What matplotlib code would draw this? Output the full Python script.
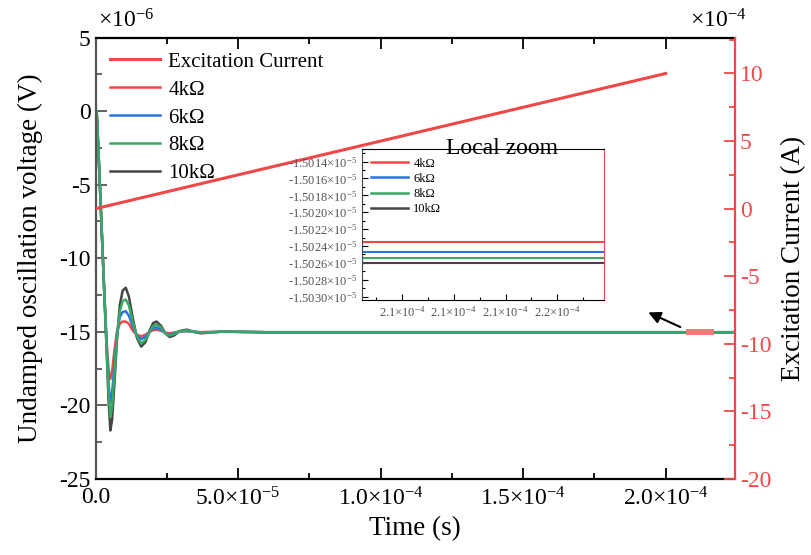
import matplotlib
matplotlib.use('Agg')
import matplotlib.pyplot as plt
from matplotlib.ticker import MultipleLocator, FuncFormatter, FixedLocator
from matplotlib.patches import Rectangle
import numpy as np

plt.rcParams['font.family'] = 'Liberation Serif'
plt.rcParams['mathtext.fontset'] = 'custom'
plt.rcParams['mathtext.rm'] = 'Liberation Serif'
plt.rcParams['mathtext.it'] = 'Liberation Serif:italic'
plt.rcParams['axes.unicode_minus'] = False

# time in units of 1e-5 s, voltage in units of 1e-6 V
T = [0, 0.04, 0.1, 0.2, 0.3, 0.4, 0.46, 0.52, 0.58, 0.66, 0.75, 0.85, 0.95, 1.06,
     1.17, 1.3, 1.45, 1.6, 1.75, 1.9, 2.02, 2.14, 2.3, 2.45, 2.6, 2.75, 2.95, 3.2,
     3.45, 3.7, 4.0, 4.5, 5.0, 6.0, 22.43]
V_4K = [0, 0, -2.6, -7.3, -12.0, -16.0, -17.6, -18.2, -17.7, -16.3, -15.0, -14.45,
        -14.3, -14.3, -14.45, -14.9, -15.2, -15.3, -15.2, -15.0, -14.88, -14.85,
        -14.92, -15.05, -15.1, -15.05, -14.98, -14.96, -15.0, -15.02, -15.01,
        -14.995, -15.0, -15.0235, -15.0235]
V_6K = [0, 0, -2.6, -7.3, -12.0, -16.4, -18.6, -19.8, -19.2, -17.3, -15.2, -14.0,
        -13.65, -13.6, -13.9, -14.6, -15.25, -15.5, -15.35, -15.0, -14.75, -14.7,
        -14.85, -15.1, -15.2, -15.1, -14.97, -14.93, -15.0, -15.03, -15.02, -14.99,
        -15.0, -15.0247, -15.0247]
V_8K = [0, 0, -2.6, -7.3, -12.0, -16.6, -19.2, -20.8, -20.1, -18.0, -15.4, -13.6,
        -12.9, -12.8, -13.2, -14.3, -15.3, -15.8, -15.55, -15.0, -14.6, -14.5,
        -14.7, -15.1, -15.25, -15.15, -14.95, -14.9, -15.0, -15.05, -15.03, -14.98,
        -15.0, -15.0254, -15.0254]
V_10K = [0, 0, -2.6, -7.3, -12.0, -16.8, -19.8, -21.7, -21.0, -18.6, -15.6, -13.2,
         -12.2, -12.0, -12.6, -14.0, -15.4, -16.0, -15.7, -14.9, -14.4, -14.3,
         -14.6, -15.1, -15.35, -15.25, -14.95, -14.85, -15.0, -15.1, -15.05, -14.97,
         -15.0, -15.026, -15.026]

# excitation current, time in 1e-5 s, current in 1e-4 A
T_EXC = [0, 20.0]
I_EXC = [0, 10]

LABELS = ['4k\u03a9', '6k\u03a9', '8k\u03a9', '10k\u03a9']
COLORS = ['#f04848', '#2a72dc', '#3aa865', '#454545']
RED = '#f04848'

ZOOM_T = (20.7, 21.7)      # highlighted region, 1e-5 s
ARROW_HEAD = (19.3, -13.6)
ARROW_TAIL = (20.6, -14.75)


def xfmt(v, pos):
    if abs(v) < 1e-12:
        return '0.0'
    e = int(np.floor(np.log10(abs(v)) + 1e-9))
    return '%.1f\u00d710$^{%d}$' % (v / 10.0**e, e)


fig = plt.figure(figsize=(8.11, 5.55), dpi=100)
ax = fig.add_axes([0.1178, 0.1369, 0.7885, 0.7955])

t = np.array(T) * 1e-5
series = [V_4K, V_6K, V_8K, V_10K]
handles = [None] * 4
for i in [3, 0, 1, 2]:
    handles[i], = ax.plot(t, series[i], color=COLORS[i], lw=1.8, label=LABELS[i])

ax.add_patch(Rectangle((ZOOM_T[0] * 1e-5, -15.18), (ZOOM_T[1] - ZOOM_T[0]) * 1e-5, 0.36,
                       facecolor='#f07878', edgecolor='none', zorder=5))
ax.annotate('', xy=(ARROW_HEAD[0] * 1e-5, ARROW_HEAD[1]),
            xytext=(ARROW_TAIL[0] * 1e-5, ARROW_TAIL[1]),
            arrowprops=dict(arrowstyle='-|>', color='black', lw=1.5, mutation_scale=18))

ax.set_xlim(0, 2.243e-4)
ax.set_ylim(-25, 5)
ax.xaxis.set_major_locator(MultipleLocator(5e-5))
ax.xaxis.set_minor_locator(MultipleLocator(2.5e-5))
ax.xaxis.set_major_formatter(FuncFormatter(xfmt))
ax.yaxis.set_major_locator(MultipleLocator(5))
ax.yaxis.set_minor_locator(MultipleLocator(2.5))
ax.tick_params(which='both', direction='in', top=True, labelsize=17, width=1.3)
ax.tick_params(which='major', length=8)
ax.tick_params(which='minor', length=4)
ax.tick_params(axis='y', which='both', color='#555555')
ax.tick_params(axis='x', pad=6)
for s in ['top', 'bottom']:
    ax.spines[s].set_linewidth(1.6)
ax.spines['left'].set_color('#555555')
ax.spines['left'].set_linewidth(1.6)
ax.spines['right'].set_visible(False)
ax.set_xlabel('Time (s)', fontsize=19.5, labelpad=4)
ax.set_ylabel('Undamped oscillation voltage (V)', fontsize=19.5, labelpad=12)

ax2 = ax.twinx()
h_exc, = ax2.plot(np.array(T_EXC) * 1e-5, I_EXC, color=RED, lw=2.2, label='Excitation Current')
ax2.set_ylim(-20, 12.66)
ax2.yaxis.set_major_locator(MultipleLocator(5))
ax2.yaxis.set_minor_locator(MultipleLocator(2.5))
ax2.tick_params(which='both', direction='in', color=RED, labelcolor=RED, labelsize=17, width=1.3)
ax2.tick_params(which='major', length=8)
ax2.tick_params(which='minor', length=4)
for s in ['top', 'bottom', 'left']:
    ax2.spines[s].set_visible(False)
ax2.spines['right'].set_color(RED)
ax2.spines['right'].set_linewidth(1.6)
ax2.set_ylabel('Excitation Current (A)', fontsize=19.5, labelpad=7)

ax2.legend([h_exc] + handles, ['Excitation Current'] + LABELS, loc='upper left',
           frameon=False, fontsize=15, handlelength=2.4, labelspacing=0.4,
           borderaxespad=0.3, handletextpad=0.4)

fig.text(98 / 811, 1 - 28 / 555, '\u00d710$^{-6}$', fontsize=17)
fig.text(690 / 811, 1 - 28 / 555, '\u00d710$^{-4}$', fontsize=17)

# inset: local zoom
axin = fig.add_axes([0.4464, 0.4595, 0.2984, 0.2721])
for i in [3, 0, 1, 2]:
    axin.plot(np.array(T) * 0.1, np.array(series[i]) * 0.1, color=COLORS[i], lw=1.5)
axin.set_xlim(2.0846, 2.178)
axin.set_ylim(-1.50304, -1.50125)
axin.xaxis.set_major_locator(FixedLocator([2.10, 2.12, 2.14, 2.16]))
axin.xaxis.set_minor_locator(FixedLocator([2.09, 2.11, 2.13, 2.15, 2.17]))
axin.yaxis.set_major_locator(FixedLocator(np.arange(-1.5030, -1.50135, 0.0002)))
axin.yaxis.set_minor_locator(MultipleLocator(0.0001))
axin.xaxis.set_major_formatter(FuncFormatter(lambda v, p: '%.1f\u00d710$^{-4}$' % v))
axin.yaxis.set_major_formatter(FuncFormatter(lambda v, p: '%.4f\u00d710$^{-5}$' % v))
axin.tick_params(which='both', direction='in', labelsize=9, labelcolor='#555555', width=0.8)
axin.tick_params(which='major', length=4)
axin.tick_params(which='minor', length=2)
axin.spines['right'].set_color(RED)
axin.spines['left'].set_color('#444444')
axin.text(0.58, 1.0, 'Local zoom', transform=axin.transAxes, ha='center', va='center',
          fontsize=17)
axin.legend([handles[0], handles[1], handles[2], handles[3]], LABELS, loc='upper left',
            frameon=False, fontsize=9, handlelength=3.0, labelspacing=0.25,
            borderaxespad=0.3, handletextpad=0.4)

fig.savefig('out.png', dpi=100)
